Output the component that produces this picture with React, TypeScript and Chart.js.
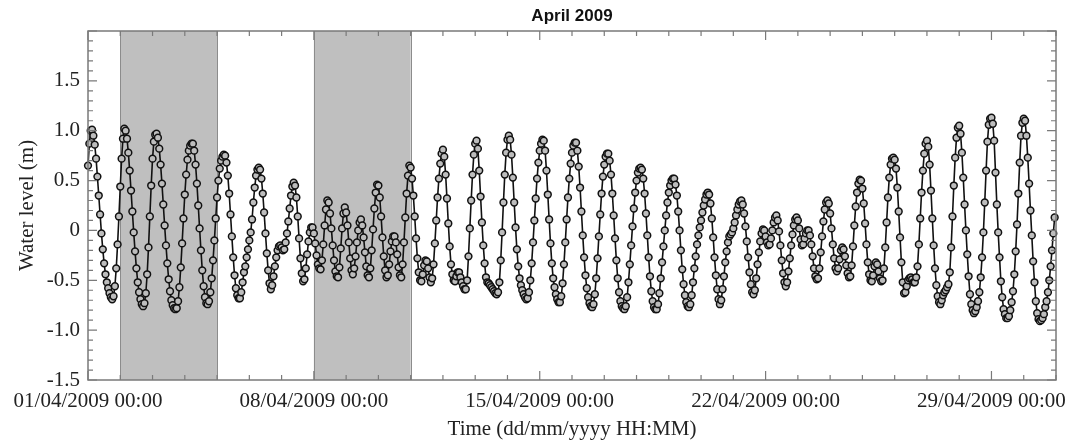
import { useEffect, useRef } from "react";
import { Chart, registerables } from "chart.js";

Chart.register(...registerables);

// ---- Texts and tick labels ----
const chartTitle = "April 2009";
const xAxisTitle = "Time (dd/mm/yyyy HH:MM)";
const yAxisTitle = "Water level (m)";
const dateTickHours = [0, 168, 336, 504, 672];
const dateTickLabels = [
  "01/04/2009 00:00",
  "08/04/2009 00:00",
  "15/04/2009 00:00",
  "22/04/2009 00:00",
  "29/04/2009 00:00",
];
const levelTicks = [-1.5, -1.0, -0.5, 0, 0.5, 1.0, 1.5];

// Shaded periods, in days from 01/04/2009 00:00
const shadedStartDays = [1, 7];
const shadedEndDays = [4, 10];

// Hourly water level (m), 01/04/2009 00:00 onwards, one row per day
const hourlyLevel = [
  0.65, 0.87, 1.00, 1.01, 0.95, 0.86, 0.72, 0.54, 0.35, 0.16, -0.03, -0.19, -0.33, -0.44, -0.52, -0.58, -0.63, -0.67, -0.69, -0.66, -0.56, -0.38, -0.14, 0.14,
  0.44, 0.72, 0.92, 1.02, 1.00, 0.92, 0.78, 0.60, 0.40, 0.19, -0.02, -0.21, -0.38, -0.52, -0.62, -0.69, -0.74, -0.76, -0.73, -0.63, -0.44, -0.17, 0.14, 0.45,
  0.72, 0.89, 0.96, 0.97, 0.93, 0.82, 0.66, 0.47, 0.26, 0.05, -0.15, -0.33, -0.49, -0.61, -0.70, -0.75, -0.78, -0.79, -0.78, -0.71, -0.57, -0.37, -0.13, 0.12,
  0.36, 0.56, 0.71, 0.80, 0.85, 0.87, 0.87, 0.80, 0.66, 0.47, 0.25, 0.02, -0.20, -0.40, -0.56, -0.67, -0.73, -0.74, -0.71, -0.62, -0.48, -0.30, -0.10, 0.12,
  0.33, 0.50, 0.62, 0.70, 0.74, 0.76, 0.75, 0.68, 0.55, 0.37, 0.16, -0.06, -0.27, -0.45, -0.58, -0.65, -0.68, -0.68, -0.62, -0.52, -0.42, -0.36, -0.27, -0.19,
  -0.10, -0.02, 0.11, 0.28, 0.43, 0.55, 0.61, 0.63, 0.61, 0.52, 0.37, 0.18, -0.03, -0.23, -0.40, -0.53, -0.59, -0.55, -0.46, -0.36, -0.27, -0.20, -0.16, -0.15,
  -0.17, -0.20, -0.19, -0.12, -0.03, 0.09, 0.22, 0.35, 0.44, 0.48, 0.45, 0.33, 0.14, -0.08, -0.28, -0.43, -0.51, -0.49, -0.38, -0.24, -0.11, -0.02, 0.03, 0.03,
  -0.03, -0.13, -0.25, -0.34, -0.38, -0.39, -0.30, -0.14, 0.05, 0.21, 0.30, 0.28, 0.17, 0.02, -0.15, -0.30, -0.41, -0.46, -0.47, -0.37, -0.18, 0.02, 0.17, 0.23,
  0.18, 0.05, -0.12, -0.28, -0.40, -0.44, -0.38, -0.26, -0.12, 0.00, 0.08, 0.11, 0.05, -0.07, -0.22, -0.36, -0.45, -0.47, -0.38, -0.20, 0.01, 0.22, 0.38, 0.46,
  0.45, 0.33, 0.14, -0.07, -0.26, -0.40, -0.47, -0.45, -0.34, -0.21, -0.11, -0.06, -0.06, -0.12, -0.24, -0.37, -0.45, -0.47, -0.34, -0.12, 0.13, 0.37, 0.55, 0.65,
  0.63, 0.52, 0.35, 0.14, -0.08, -0.28, -0.42, -0.50, -0.51, -0.44, -0.35, -0.30, -0.31, -0.38, -0.47, -0.52, -0.48, -0.34, -0.13, 0.10, 0.33, 0.52, 0.67, 0.77,
  0.81, 0.74, 0.56, 0.32, 0.07, -0.16, -0.34, -0.44, -0.50, -0.51, -0.46, -0.42, -0.42, -0.47, -0.52, -0.56, -0.59, -0.59, -0.50, -0.26, 0.02, 0.30, 0.56, 0.76,
  0.87, 0.90, 0.82, 0.60, 0.34, 0.08, -0.15, -0.33, -0.47, -0.52, -0.53, -0.55, -0.57, -0.59, -0.61, -0.63, -0.64, -0.62, -0.52, -0.30, -0.02, 0.28, 0.56, 0.78,
  0.91, 0.95, 0.91, 0.76, 0.53, 0.28, 0.03, -0.19, -0.36, -0.48, -0.55, -0.60, -0.64, -0.67, -0.69, -0.68, -0.62, -0.50, -0.33, -0.12, 0.10, 0.32, 0.52, 0.68,
  0.80, 0.87, 0.91, 0.90, 0.80, 0.60, 0.36, 0.11, -0.13, -0.33, -0.48, -0.57, -0.64, -0.69, -0.72, -0.72, -0.66, -0.53, -0.34, -0.12, 0.11, 0.33, 0.52, 0.67,
  0.78, 0.85, 0.88, 0.88, 0.80, 0.64, 0.43, 0.19, -0.05, -0.27, -0.45, -0.58, -0.67, -0.73, -0.76, -0.77, -0.74, -0.64, -0.48, -0.28, -0.06, 0.16, 0.37, 0.54,
  0.66, 0.74, 0.77, 0.77, 0.70, 0.56, 0.37, 0.15, -0.08, -0.30, -0.48, -0.62, -0.71, -0.76, -0.78, -0.79, -0.76, -0.67, -0.52, -0.34, -0.15, 0.04, 0.22, 0.38,
  0.50, 0.58, 0.62, 0.63, 0.61, 0.52, 0.37, 0.17, -0.05, -0.27, -0.46, -0.61, -0.71, -0.77, -0.79, -0.79, -0.74, -0.63, -0.48, -0.32, -0.16, 0.00, 0.15, 0.28,
  0.38, 0.45, 0.50, 0.52, 0.52, 0.46, 0.35, 0.19, 0.00, -0.20, -0.39, -0.54, -0.65, -0.72, -0.76, -0.77, -0.74, -0.65, -0.52, -0.38, -0.26, -0.14, -0.05, 0.03,
  0.10, 0.18, 0.25, 0.31, 0.36, 0.38, 0.36, 0.27, 0.12, -0.07, -0.27, -0.45, -0.59, -0.69, -0.74, -0.70, -0.59, -0.46, -0.32, -0.21, -0.12, -0.06, -0.04, -0.02,
  0.02, 0.08, 0.15, 0.21, 0.26, 0.29, 0.30, 0.26, 0.17, 0.04, -0.11, -0.27, -0.42, -0.54, -0.62, -0.64, -0.60, -0.48, -0.34, -0.22, -0.11, -0.03, 0.01, 0.00,
  -0.06, -0.12, -0.15, -0.14, -0.08, 0.00, 0.08, 0.13, 0.15, 0.10, -0.01, -0.15, -0.30, -0.43, -0.52, -0.56, -0.52, -0.41, -0.28, -0.15, -0.04, 0.05, 0.11, 0.13,
  0.10, 0.02, -0.09, -0.15, -0.14, -0.08, -0.03, 0.00, 0.00, -0.05, -0.14, -0.26, -0.38, -0.46, -0.49, -0.48, -0.38, -0.22, -0.06, 0.09, 0.21, 0.28, 0.30, 0.27,
  0.17, 0.02, -0.14, -0.28, -0.38, -0.41, -0.38, -0.29, -0.20, -0.17, -0.19, -0.26, -0.35, -0.43, -0.47, -0.46, -0.35, -0.16, 0.05, 0.24, 0.38, 0.47, 0.51, 0.50,
  0.42, 0.27, 0.07, -0.14, -0.32, -0.44, -0.50, -0.51, -0.45, -0.36, -0.32, -0.34, -0.41, -0.48, -0.51, -0.50, -0.38, -0.17, 0.08, 0.33, 0.53, 0.66, 0.72, 0.73,
  0.71, 0.62, 0.43, 0.19, -0.07, -0.32, -0.52, -0.63, -0.62, -0.56, -0.50, -0.48, -0.47, -0.49, -0.52, -0.52, -0.47, -0.36, -0.14, 0.12, 0.38, 0.60, 0.77, 0.87,
  0.90, 0.84, 0.66, 0.40, 0.12, -0.15, -0.38, -0.55, -0.66, -0.72, -0.74, -0.70, -0.65, -0.62, -0.60, -0.57, -0.54, -0.42, -0.17, 0.14, 0.45, 0.73, 0.93, 1.03,
  1.05, 0.97, 0.78, 0.53, 0.26, 0.00, -0.24, -0.46, -0.64, -0.74, -0.80, -0.83, -0.81, -0.77, -0.71, -0.62, -0.47, -0.27, -0.02, 0.28, 0.60, 0.89, 1.06, 1.12,
  1.13, 1.07, 0.90, 0.58, 0.26, -0.02, -0.27, -0.51, -0.67, -0.79, -0.84, -0.88, -0.88, -0.86, -0.80, -0.72, -0.61, -0.44, -0.21, 0.06, 0.37, 0.68, 0.95, 1.08,
  1.12, 1.10, 0.95, 0.73, 0.47, 0.20, -0.05, -0.31, -0.52, -0.71, -0.83, -0.89, -0.91, -0.90, -0.88, -0.84, -0.77, -0.71, -0.62, -0.50, -0.36, -0.20, -0.03, 0.13,
];

const SERIF = '"Liberation Serif", "Times New Roman", Times, serif';
const SANS = '"Liberation Sans", Arial, Helvetica, sans-serif';
const HOURS_PER_DAY = 24;
const TOTAL_DAYS = 30;

// Grey bands for the highlighted periods, behind the series
const shadingPlugin = {
  id: "periodShading",
  beforeDatasetsDraw(chart: any) {
    const { ctx, chartArea, scales } = chart;
    const xs = scales.x;
    ctx.save();
    shadedStartDays.forEach((start, i) => {
      const x0 = xs.getPixelForValue(start * HOURS_PER_DAY);
      const x1 = xs.getPixelForValue(shadedEndDays[i] * HOURS_PER_DAY);
      ctx.fillStyle = "#bfbfbf";
      ctx.fillRect(x0, chartArea.top, x1 - x0, chartArea.bottom - chartArea.top);
      ctx.strokeStyle = "#8c8c8c";
      ctx.lineWidth = 1;
      ctx.beginPath();
      ctx.moveTo(Math.round(x0) + 0.5, chartArea.top);
      ctx.lineTo(Math.round(x0) + 0.5, chartArea.bottom);
      ctx.moveTo(Math.round(x1) + 0.5, chartArea.top);
      ctx.lineTo(Math.round(x1) + 0.5, chartArea.bottom);
      ctx.stroke();
    });
    ctx.restore();
  },
};

// Box frame with inward ticks on all four sides, plus the title
const framePlugin = {
  id: "boxFrame",
  afterDatasetsDraw(chart: any) {
    const { ctx, chartArea, scales } = chart;
    const { left, right, top, bottom } = chartArea;
    const xs = scales.x;
    const ys = scales.y;
    ctx.save();
    ctx.strokeStyle = "#7a7a7a";
    ctx.lineWidth = 1.5;
    ctx.strokeRect(left, top, right - left, bottom - top);

    ctx.lineWidth = 1.2;
    ctx.beginPath();
    for (let d = 0; d <= TOTAL_DAYS; d++) {
      const x = xs.getPixelForValue(d * HOURS_PER_DAY);
      const len = d % 7 === 0 ? 9 : 5;
      ctx.moveTo(x, bottom);
      ctx.lineTo(x, bottom - len);
      ctx.moveTo(x, top);
      ctx.lineTo(x, top + len);
    }
    for (let k = -15; k <= 20; k++) {
      const y = ys.getPixelForValue(k / 10);
      const len = k % 5 === 0 ? 9 : 5;
      ctx.moveTo(left, y);
      ctx.lineTo(left + len, y);
      ctx.moveTo(right, y);
      ctx.lineTo(right - len, y);
    }
    ctx.stroke();

    ctx.fillStyle = "#111";
    ctx.font = `bold 17px ${SANS}`;
    ctx.textAlign = "center";
    ctx.textBaseline = "middle";
    ctx.fillText(chartTitle, (left + right) / 2, 16);
    ctx.restore();
  },
};

export default function App() {
  const canvasRef = useRef<HTMLCanvasElement | null>(null);

  useEffect(() => {
    const canvas = canvasRef.current;
    if (!canvas) return;
    const points = hourlyLevel.map((v, i) => ({ x: i, y: v }));
    const tickFont = { family: SERIF, size: 21 };

    const chart = new Chart(canvas, {
      type: "line",
      data: {
        datasets: [
          {
            data: points,
            borderColor: "#111",
            borderWidth: 1.6,
            pointRadius: 3.4,
            pointBorderWidth: 1.5,
            pointBackgroundColor: "#bdbdbd",
            pointBorderColor: "#111",
            tension: 0,
            clip: false,
          } as any,
        ],
      },
      options: {
        responsive: false,
        animation: false,
        devicePixelRatio: 1,
        layout: { padding: { top: 31, right: 23, left: 0, bottom: 0 } },
        plugins: {
          legend: { display: false },
          tooltip: { enabled: false },
          title: { display: false },
        },
        scales: {
          x: {
            type: "linear",
            min: 0,
            max: TOTAL_DAYS * HOURS_PER_DAY,
            afterBuildTicks: (s: any) => {
              s.ticks = dateTickHours.map((v) => ({ value: v }));
            },
            afterFit: (s: any) => {
              s.height = 64;
            },
            ticks: {
              autoSkip: false,
              maxRotation: 0,
              minRotation: 0,
              padding: 9,
              color: "#222",
              font: tickFont,
              callback: (v: any) => {
                const i = dateTickHours.indexOf(Number(v));
                return i >= 0 ? dateTickLabels[i] : "";
              },
            },
            grid: { display: false, drawTicks: false },
            border: { display: false },
            title: {
              display: true,
              text: xAxisTitle,
              color: "#222",
              font: tickFont,
              padding: { top: 0, bottom: 2 },
            },
          },
          y: {
            type: "linear",
            min: -1.5,
            max: 2.0,
            afterBuildTicks: (s: any) => {
              s.ticks = levelTicks.map((v) => ({ value: v }));
            },
            afterFit: (s: any) => {
              s.width = 88;
            },
            ticks: {
              padding: 8,
              color: "#222",
              font: tickFont,
              callback: (v: any) => (Number(v) === 0 ? "0" : Number(v).toFixed(1)),
            },
            grid: { display: false, drawTicks: false },
            border: { display: false },
            title: {
              display: true,
              text: yAxisTitle,
              color: "#222",
              font: tickFont,
              padding: { top: 15, bottom: 0 },
            },
          },
        },
      },
      plugins: [shadingPlugin, framePlugin],
    });

    return () => chart.destroy();
  }, []);

  return (
    <div
      style={{
        position: "fixed",
        left: 0,
        top: 0,
        width: 1079,
        height: 444,
        background: "#fff",
      }}
    >
      <canvas ref={canvasRef} width={1079} height={444} style={{ display: "block" }} />
    </div>
  );
}
